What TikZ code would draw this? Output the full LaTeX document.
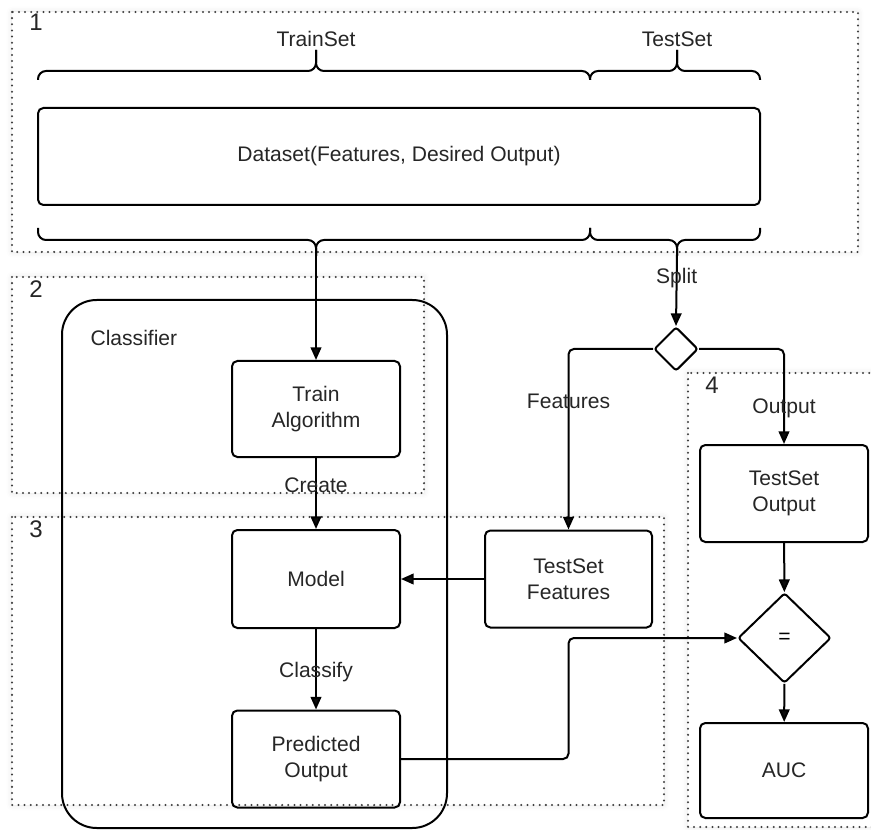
\documentclass[tikz,border=0pt]{standalone}
\usepackage{fontspec}
\setmainfont{Liberation Sans}
\usetikzlibrary{arrows.meta,shapes.geometric,shadows.blur,calc}
\begin{document}
\begin{tikzpicture}[x=0.75pt,y=-0.75pt,
  font=\fontsize{15.8}{19.5}\selectfont,
  box/.style={draw, line width=1.5pt, rounded corners=4pt, align=center, inner sep=0pt, text=black!85},
  region/.style={draw=black!75, fill=white, line width=1.7pt, line cap=round, dash pattern=on 0pt off 4.6pt,
    blur shadow={shadow xshift=0pt,shadow yshift=0pt,shadow blur radius=4pt,shadow opacity=10}},
  conn/.style={line width=1.5pt, rounded corners=4pt},
  arr/.style={conn, -{Triangle[length=9.5pt,width=8pt]}},
  lbl/.style={inner sep=1pt, text=black!85},
  num/.style={font=\fontsize{18}{20}\selectfont, anchor=north west, inner sep=0pt, text=black!85},
  bracepath/.style={line width=1.5pt, rounded corners=6pt},
  decision/.style={draw, shape=diamond, line width=1.5pt, inner sep=0pt, rounded corners=2pt, aspect=1}]
\useasboundingbox (0,0) rectangle (871,830);

% regions
\draw[region] (12,12) rectangle (858,252);
\draw[region] (12,277) rectangle (424,493);
\draw[region] (12,517) rectangle (664,805);
\draw[region] (688,373) rectangle (895,827);

\node[num] (n1) at (29,14) {1};
\node[num] (n2) at (29,280) {2};
\node[num] (n3) at (29,520) {3};
\node[num] (n4) at (705,377) {4};

% classifier container
\draw[line width=1.5pt, rounded corners=26pt] (62,300) rectangle (447,828);
\node[lbl, anchor=west] (clsl) at (89,338) {Classifier};

% top braces
\draw[bracepath] (38,80) -- (38,71) -- (316,71) -- (316,50);
\draw[bracepath] (590,80) -- (590,71) -- (316,71) -- (316,50);
\draw[bracepath] (590,80) -- (590,71) -- (677,71) -- (677,50);
\draw[bracepath] (760,80) -- (760,71) -- (677,71) -- (677,50);
\node[lbl] (trainsetl) at (316,39) {TrainSet};
\node[lbl] (testsetl) at (677,39) {TestSet};

% dataset
\node[box, minimum width=541.5pt, minimum height=72.75pt] (dataset) at (399,156.5) {Dataset(Features, Desired Output)};

% bottom braces
\draw[bracepath] (38,228) -- (38,240) -- (316,240) -- (316,256);
\draw[bracepath] (590,228) -- (590,240) -- (316,240) -- (316,256);
\draw[bracepath] (590,228) -- (590,240) -- (677,240) -- (677,256);
\draw[bracepath] (760,228) -- (760,240) -- (677,240) -- (677,256);
\coordinate (trtip) at (316,254);
\coordinate (tstip) at (677,254);

% nodes
\node[box, minimum width=126pt, minimum height=72pt] (train) at (316,409) {Train\\Algorithm};
\node[box, minimum width=126pt, minimum height=73.5pt] (model) at (316,579) {Model};
\node[box, minimum width=126pt, minimum height=72.75pt] (pred) at (316,759) {Predicted\\Output};
\node[box, minimum width=125.25pt, minimum height=72.75pt] (tsf) at (568.5,579) {TestSet\\Features};
\node[box, minimum width=126pt, minimum height=72.75pt] (tso) at (784,493.5) {TestSet\\Output};
\node[box, minimum width=126pt, minimum height=71.25pt] (auc) at (784,770.5) {AUC};
\node[decision, minimum width=33pt, minimum height=33pt] (split) at (676,349) {};
\node[decision, minimum width=69.75pt, minimum height=67.5pt] (eq) at (784.5,638) {=};

% connectors
\draw[arr] (trtip) -- (train.north);
\draw[arr] (train) -- node[lbl, pos=0.38] {Create} (model);
\draw[arr] (model) -- node[lbl, pos=0.53] {Classify} (pred);
\draw[arr] (tsf) -- (model);
\draw[arr] (tstip) -- node[lbl, pos=0.33] {Split} (split.north);
\draw[arr] (split.west) -| node[lbl, pos=0.645] {Features} (tsf.north);
\draw[arr] (split.east) -| node[lbl, pos=0.81] {Output} (tso.north);
\draw[arr] (tso) -- (eq);
\draw[arr] (eq) -- (auc);
\draw[arr] (pred.east) -| (tsf.south |- eq.west) -- (eq.west);
\end{tikzpicture}
\end{document}
